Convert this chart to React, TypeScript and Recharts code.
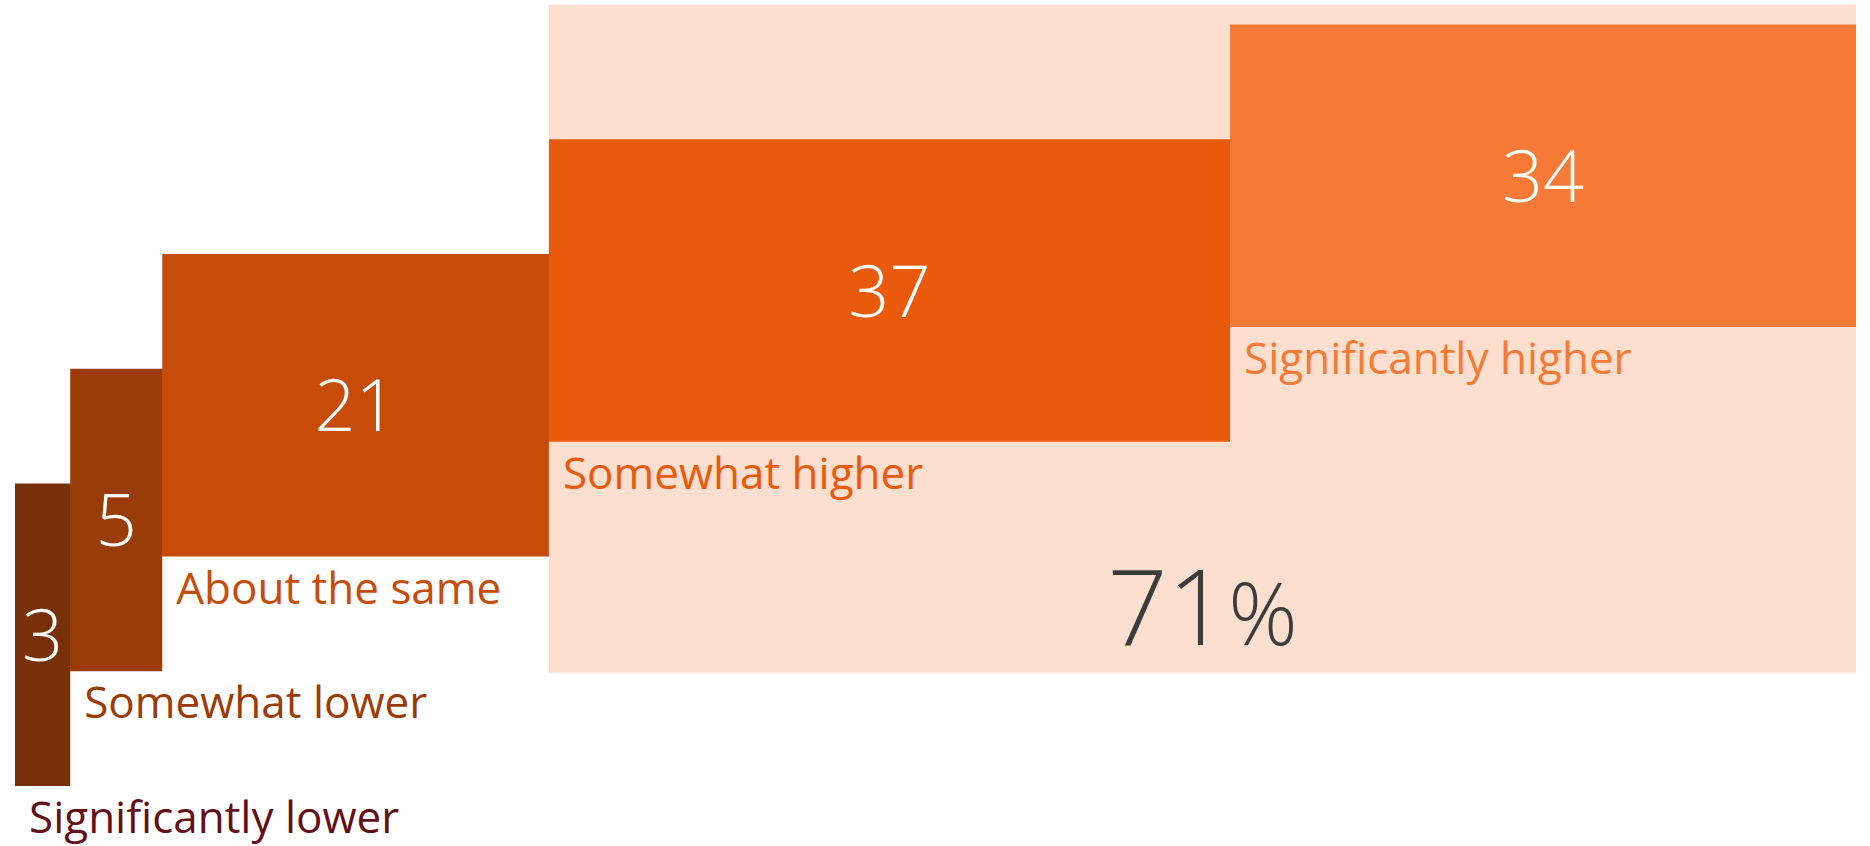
import React from 'react';
import { ComposedChart, XAxis, YAxis, Area, Scatter } from 'recharts';

const categories = ['Significantly lower', 'Somewhat lower', 'About the same', 'Somewhat higher', 'Significantly higher'];
const shares = [3, 5, 21, 37, 34];
const higherTotal = 71;

const barColors = ['#773008', '#9a3c08', '#c84c09', '#ea5a0c', '#f67a35'];
const labelColors = ['#611019', '#9a3c08', '#c84c09', '#ea5a0c', '#f67a35'];
const BG = '#fcdfcf';
const FONT = '"Open Sans", Lato, sans-serif';

// each bar steps up by STEP and is BAR_H tall (y units ~ px)
const STEP = 114.75;
const BAR_H = 302.5;
const Y_MAX = 780;

const rows = categories.map((name, i) => {
  const start = shares.slice(0, i).reduce((a, b) => a + b, 0);
  return { name, value: shares[i], start, end: start + shares[i], low: i * STEP, high: i * STEP + BAR_H };
});
const higherStart = rows[3].start;

// stepped range area: one point per bar start, plus the right edge
const steps = [
  ...rows.map((r) => ({ x: r.start, range: [r.low, r.high] })),
  { x: rows[4].end, range: [rows[4].low, rows[4].high] },
];
const withBg = steps.map((s) => ({ ...s, bg: s.x >= higherStart ? [STEP, Y_MAX] : null }));

const valuePoints = rows.map((r, i) => ({ x: (r.start + r.end) / 2, y: r.low + BAR_H / 2, text: String(r.value), i }));
const namePoints = rows.map((r, i) => ({ x: r.start, y: r.low, text: r.name, i }));
const totalPoint = [{ x: (higherStart + 100) / 2, y: STEP, text: String(higherTotal) }];

const App: React.FC = () => {
  return (
    <div style={{ position: 'absolute', left: 0, top: 0, width: 1870, height: 846 }}>
      <ComposedChart width={1870} height={846} data={withBg} margin={{ top: 6, right: 14, bottom: 60, left: 15 }}>
        <defs>
          <linearGradient id="stepFill" x1="0" y1="0" x2="1" y2="0">
            {rows.flatMap((r, i) => [
              <stop key={r.name + 'a'} offset={r.start / 100} stopColor={barColors[i]} />,
              <stop key={r.name + 'b'} offset={r.end / 100} stopColor={barColors[i]} />,
            ])}
          </linearGradient>
        </defs>
        <XAxis type="number" dataKey="x" domain={[0, 100]} hide />
        <YAxis type="number" domain={[0, Y_MAX]} hide />
        <Area
          type="linear"
          dataKey="bg"
          fill={BG}
          fillOpacity={1}
          stroke={BG}
          strokeWidth={3}
          dot={false}
          activeDot={false}
          isAnimationActive={false}
        />
        <Area
          type="stepAfter"
          dataKey="range"
          fill="url(#stepFill)"
          fillOpacity={1}
          stroke="none"
          dot={false}
          activeDot={false}
          isAnimationActive={false}
        />
        <Scatter
          data={totalPoint}
          dataKey="y"
          isAnimationActive={false}
          shape={(p: any) => (
            <text x={p.cx} y={p.cy - 26} textAnchor="middle" fill="#3c3c3c" fontFamily={FONT} fontWeight={300} fontSize={106}>
              {p.payload.text}
              <tspan fontSize={86}>%</tspan>
            </text>
          )}
        />
        <Scatter
          data={valuePoints}
          dataKey="y"
          isAnimationActive={false}
          shape={(p: any) => (
            <text x={p.cx} y={p.cy + 26} textAnchor="middle" fill="#ffffff" fontFamily={FONT} fontWeight={300} fontSize={72}>
              {p.payload.text}
            </text>
          )}
        />
        <Scatter
          data={namePoints}
          dataKey="y"
          isAnimationActive={false}
          shape={(p: any) => (
            <text x={p.cx + 14} y={p.cy + 47} fill={labelColors[p.payload.i]} fontFamily={FONT} fontSize={44}>
              {p.payload.text}
            </text>
          )}
        />
      </ComposedChart>
    </div>
  );
};

export default App;
